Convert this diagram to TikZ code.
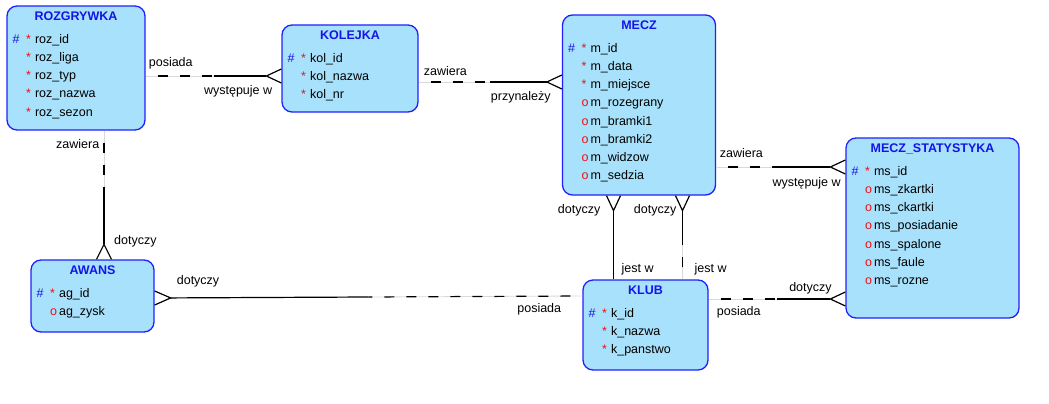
\documentclass[tikz,border=0pt]{standalone}
\usepackage{fontspec}
\setmainfont{Liberation Sans}
\usetikzlibrary{calc,positioning}

\definecolor{entfill}{HTML}{A8E1FB}
\definecolor{entdraw}{HTML}{2020FF}
\definecolor{enttext}{HTML}{1414E6}
\definecolor{attred}{HTML}{F01010}

\tikzstyle{ent}=[shape=rectangle,
                 rounded corners=10pt,
                 draw=entdraw,
                 fill=entfill,
                 line width=1.3pt,
                 inner sep=0pt]
\tikzstyle{hdr}=[font=\fontsize{12.5}{15}\selectfont\bfseries,
                 text=enttext,
                 inner sep=0pt,
                 anchor=base]
\tikzstyle{attrs}=[font=\fontsize{12.5}{18.2}\selectfont,
                   inner sep=0pt,
                   anchor=base west]
\tikzstyle{lbl}=[font=\fontsize{12.5}{15}\selectfont,
                 inner sep=0pt]
\tikzstyle{mand}=[draw=black, line width=1.2pt]
\tikzstyle{opt}=[draw=black, line width=1.2pt,
                 dash pattern=on 10pt off 12pt, dash phase=10pt,
                 preaction={draw=black!15, line width=0.8pt, solid}]

\newcommand{\attpk}{\makebox[13.5pt][l]{\textcolor{enttext}{\#}}\makebox[9pt][l]{\textcolor{attred}{*}}}
\newcommand{\attreq}{\makebox[13.5pt][l]{}\makebox[9pt][l]{\textcolor{attred}{*}}}
\newcommand{\attopt}{\makebox[13.5pt][l]{}\makebox[9pt][l]{\textcolor{attred}{o}}}

\begin{document}
\begin{tikzpicture}[x=1pt,y=-1pt]
\useasboundingbox (0,0) rectangle (1049,404);

% entities
\node[ent, minimum width=138pt, minimum height=124pt] (roz)   at (76,68)    {};
\node[ent, minimum width=136pt, minimum height=87pt]  (kol)   at (350,68.5) {};
\node[ent, minimum width=153pt, minimum height=180pt] (mecz)  at (639,105)  {};
\node[ent, minimum width=173pt, minimum height=180pt] (ms)    at (932.5,228) {};
\node[ent, minimum width=123pt, minimum height=72pt]  (awans) at (92.5,296) {};
\node[ent, minimum width=125pt, minimum height=90pt]  (klub)  at (645.5,325) {};

% titles
\node[hdr] (roz-t)   at ([yshift=-15pt]roz.north)   {ROZGRYWKA};
\node[hdr] (kol-t)   at ([yshift=-15pt]kol.north)   {KOLEJKA};
\node[hdr] (mecz-t)  at ([yshift=-15pt]mecz.north)  {MECZ};
\node[hdr] (ms-t)    at ([yshift=-15pt]ms.north)    {MECZ\_STATYSTYKA};
\node[hdr] (awans-t) at ([yshift=-15pt]awans.north) {AWANS};
\node[hdr] (klub-t)  at ([yshift=-15pt]klub.north)  {KLUB};

% attributes
\node[attrs] (roz-a) at ([shift={(6,38)}]roz.north west) {\begin{tabular}[t]{@{}l@{}}
\attpk roz\_id\\ \attreq roz\_liga\\ \attreq roz\_typ\\ \attreq roz\_nazwa\\ \attreq roz\_sezon
\end{tabular}};
\node[attrs] (kol-a) at ([shift={(6,38)}]kol.north west) {\begin{tabular}[t]{@{}l@{}}
\attpk kol\_id\\ \attreq kol\_nazwa\\ \attreq kol\_nr
\end{tabular}};
\node[attrs] (mecz-a) at ([shift={(6,38)}]mecz.north west) {\begin{tabular}[t]{@{}l@{}}
\attpk m\_id\\ \attreq m\_data\\ \attreq m\_miejsce\\ \attopt m\_rozegrany\\ \attopt m\_bramki1\\
\attopt m\_bramki2\\ \attopt m\_widzow\\ \attopt m\_sedzia
\end{tabular}};
\node[attrs] (ms-a) at ([shift={(6,38)}]ms.north west) {\begin{tabular}[t]{@{}l@{}}
\attpk ms\_id\\ \attopt ms\_zkartki\\ \attopt ms\_ckartki\\ \attopt ms\_posiadanie\\
\attopt ms\_spalone\\ \attopt ms\_faule\\ \attopt ms\_rozne
\end{tabular}};
\node[attrs] (awans-a) at ([shift={(6,38)}]awans.north west) {\begin{tabular}[t]{@{}l@{}}
\attpk ag\_id\\ \attopt ag\_zysk
\end{tabular}};
\node[attrs] (klub-a) at ([shift={(6,38)}]klub.north west) {\begin{tabular}[t]{@{}l@{}}
\attpk k\_id\\ \attreq k\_nazwa\\ \attreq k\_panstwo
\end{tabular}};

% ROZGRYWKA - KOLEJKA
\coordinate (r1a) at ([yshift=-8pt]roz.east);
\coordinate (r1b) at (kol.west |- r1a);
\coordinate (r1m) at ($(r1a)!0.5!(r1b)$);
\coordinate (r1c) at ($(r1b)!15pt!(r1a)$);
\draw[opt] (r1a) -- (r1m);
\draw[mand] (r1m) -- (r1c);
\draw[mand] ($(r1b)!7pt!90:(r1a)$) -- (r1c) -- ($(r1b)!7pt!-90:(r1a)$);
\node[lbl, anchor=base west] (l1a) at ([shift={(3,-9.5)}]r1a) {posiada};
\node[lbl, anchor=base east] (l1b) at ([shift={(-9,18)}]r1b) {występuje w};

% KOLEJKA - MECZ
\coordinate (r2a) at ([yshift=-13.5pt]kol.east);
\coordinate (r2b) at (mecz.west |- r2a);
\coordinate (r2m) at ($(r2a)!0.5!(r2b)$);
\coordinate (r2c) at ($(r2b)!15pt!(r2a)$);
\draw[opt] (r2a) -- (r2m);
\draw[mand] (r2m) -- (r2c);
\draw[mand] ($(r2b)!7pt!90:(r2a)$) -- (r2c) -- ($(r2b)!7pt!-90:(r2a)$);
\node[lbl, anchor=base west] (l2a) at ([shift={(5,-6.5)}]r2a) {zawiera};
\node[lbl, anchor=base east] (l2b) at ([shift={(-11,18)}]r2b) {przynależy};

% ROZGRYWKA - AWANS
\coordinate (r3a) at ([xshift=28pt]roz.south);
\coordinate (r3b) at (awans.north -| r3a);
\coordinate (r3m) at ($(r3a)!0.5!(r3b)$);
\coordinate (r3c) at ($(r3b)!15pt!(r3a)$);
\draw[opt] (r3a) -- (r3m);
\draw[mand] (r3m) -- (r3c);
\draw[mand] ($(r3b)!7.5pt!90:(r3a)$) -- (r3c) -- ($(r3b)!7.5pt!-90:(r3a)$);
\node[lbl, anchor=base east] (l3a) at ([shift={(-4.5,18)}]r3a) {zawiera};
\node[lbl, anchor=base west] (l3b) at ([shift={(10,-15)}]r3b) {dotyczy};

% MECZ - MECZ_STATYSTYKA
\coordinate (r4a) at ([yshift=-62pt]mecz.east);
\coordinate (r4b) at (ms.west |- r4a);
\coordinate (r4m) at ($(r4a)!0.5!(r4b)$);
\coordinate (r4c) at ($(r4b)!15pt!(r4a)$);
\draw[opt] (r4a) -- (r4m);
\draw[mand] (r4m) -- (r4c);
\draw[mand] ($(r4b)!7pt!90:(r4a)$) -- (r4c) -- ($(r4b)!7pt!-90:(r4a)$);
\node[lbl, anchor=base west] (l4a) at ([shift={(3.5,-9.5)}]r4a) {zawiera};
\node[lbl, anchor=base east] (l4b) at ([shift={(-4.5,19.5)}]r4b) {występuje w};

% MECZ - KLUB (left)
\coordinate (r5a) at ([xshift=-25.5pt]mecz.south);
\coordinate (r5b) at (klub.north -| r5a);
\coordinate (r5c) at ($(r5a)!15pt!(r5b)$);
\draw[mand] (r5c) -- (r5b);
\draw[mand] ($(r5a)!7pt!90:(r5b)$) -- (r5c) -- ($(r5a)!7pt!-90:(r5b)$);
\node[lbl, anchor=base east] (l5a) at ([shift={(-13,18)}]r5a) {dotyczy};
\node[lbl, anchor=base west] (l5b) at ([shift={(8,-6.5)}]r5b) {jest w};

% MECZ - KLUB (right)
\coordinate (r6a) at ([xshift=43.5pt]mecz.south);
\coordinate (r6b) at (klub.north -| r6a);
\coordinate (r6m) at ($(r6a)!0.5!(r6b)$);
\coordinate (r6c) at ($(r6a)!15pt!(r6b)$);
\draw[opt] (r6b) -- (r6m);
\draw[mand] (r6m) -- (r6c);
\draw[mand] ($(r6a)!7pt!90:(r6b)$) -- (r6c) -- ($(r6a)!7pt!-90:(r6b)$);
\node[lbl, anchor=base east] (l6a) at ([shift={(-6,18)}]r6a) {dotyczy};
\node[lbl, anchor=base west] (l6b) at ([shift={(12,-7)}]r6b) {jest w};

% AWANS - KLUB
\coordinate (r7a) at ([yshift=-2pt]awans.east);
\coordinate (r7b) at ([yshift=29pt]klub.west);
\coordinate (r7m) at ($(r7a)!0.5!(r7b)$);
\coordinate (r7c) at ($(r7a)!16pt!(r7b)$);
\draw[opt] (r7b) -- (r7m);
\draw[mand] (r7m) -- (r7c);
\draw[mand] ($(r7a)!7pt!90:(r7b)$) -- (r7c) -- ($(r7a)!7pt!-90:(r7b)$);
\node[lbl, anchor=base west] (l7a) at ([shift={(22,-14)}]r7a) {dotyczy};
\node[lbl, anchor=base east] (l7b) at ([shift={(-21,16.5)}]r7b) {posiada};

% KLUB - MECZ_STATYSTYKA
\coordinate (r8a) at ([yshift=26pt]klub.east);
\coordinate (r8b) at (ms.west |- r8a);
\coordinate (r8m) at ($(r8a)!0.5!(r8b)$);
\coordinate (r8c) at ($(r8b)!15pt!(r8a)$);
\draw[opt] (r8a) -- (r8m);
\draw[mand] (r8m) -- (r8c);
\draw[mand] ($(r8b)!7pt!90:(r8a)$) -- (r8c) -- ($(r8b)!7pt!-90:(r8a)$);
\node[lbl, anchor=base west] (l8a) at ([shift={(8,16)}]r8a) {posiada};
\node[lbl, anchor=base east] (l8b) at ([shift={(-13.5,-7.5)}]r8b) {dotyczy};

\end{tikzpicture}
\end{document}
